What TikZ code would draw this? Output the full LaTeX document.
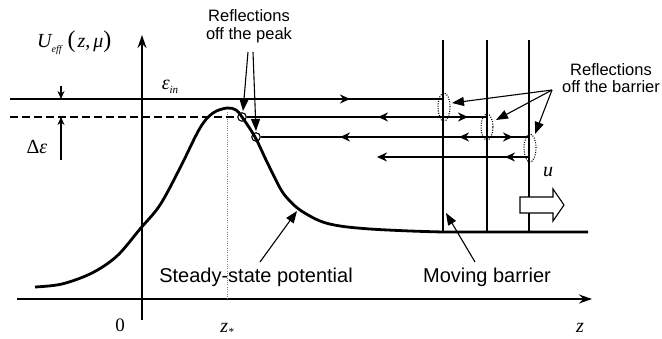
\documentclass[tikz,border=0pt]{standalone}
\usepackage{fontspec}
\setmainfont{Liberation Sans}
\newfontfamily\tms{Liberation Serif}
\usetikzlibrary{arrows.meta}
\begin{document}
\begin{tikzpicture}[x=1pt,y=-1pt,
  axis/.style={line width=1.3pt,-{Stealth[length=13pt,width=9pt]}},
  traj/.style={line width=2pt},
  bar/.style={line width=2.6pt},
  pot/.style={line width=2.8pt},
  midtip/.style={line width=2pt,-{Stealth[length=10pt,width=9pt]}},
  ptr/.style={line width=1.1pt,-{Triangle[length=12pt,width=9pt]}},
  lbl/.style={font=\fontsize{20}{22}\selectfont, inner sep=0pt},
  rlbl/.style={font=\fontsize{16.5}{17.5}\selectfont, align=center, inner sep=0pt},
  mth/.style={font=\tms\itshape\fontsize{20}{22}\selectfont, inner sep=0pt},
  ring/.style={draw, circle, line width=1.1pt, minimum size=8.5pt, inner sep=0pt},
  dotted ring/.style={line width=1.1pt, dash pattern=on 1pt off 1.4pt}
]
\useasboundingbox (0,0) rectangle (662,339);

% axes
\coordinate (xs) at (17,299);
\coordinate (xe) at (592,299);
\coordinate (ys) at (142,320);
\coordinate (ye) at (142,35);
\draw[axis] (xs) -- (xe);
\draw[axis] (ys) -- (ye);

% barriers
\coordinate (b1t) at (443,40); \coordinate (b1b) at (443,232);
\coordinate (b2t) at (487,40); \coordinate (b2b) at (487,232);
\coordinate (b3t) at (529,40); \coordinate (b3b) at (529,232);
\draw[bar] (b1t) -- (b1b);
\draw[bar] (b2t) -- (b2b);
\draw[bar] (b3t) -- (b3b);

% potential curve
\coordinate (fl) at (588,232);
\draw[pot] plot[smooth, tension=0.55] coordinates {
 (35,287) (62,284) (92,273) (117,256) (140,229) (160,205) (180,168) (200,128)
 (213,113) (227,108) (236,110) (242,117) (255,137) (267,162) (280,188) (288,199)
 (300,210) (320,221) (340,226) (370,229) (410,231) (443,232)} -- (fl);

% dotted z*
\coordinate (zt) at (227,112);
\coordinate (zb) at (227,299);
\draw[line width=0.9pt, gray, dash pattern=on 1pt off 1.3pt] (zt) -- (zb);

% reflection rings on the peak
\node[ring] (r1) at (242,117) {};
\node[ring] (r2) at (256,137) {};

% trajectories
\coordinate (l1s) at (10,99);
\coordinate (l1e) at (443,99);
\coordinate (d1s) at (10,117);
\coordinate (l2e) at (487,117);
\coordinate (l3e) at (529,137);
\coordinate (l4s) at (529,157);
\coordinate (l4e) at (377,157);
\draw[traj] (l1s) -- (l1e);
\draw[traj, dash pattern=on 8pt off 4pt] (d1s) -- (r1.west);
\draw[traj] (r1.east) -- (l2e);
\draw[traj] (r2.east) -- (l3e);
\draw[midtip] (l4s) -- (l4e);

% mid arrowheads
\draw[midtip] (343,99) -- (350,99);
\draw[midtip] (386,117) -- (378,117);
\draw[midtip] (461,117) -- (468,117);
\draw[midtip] (348,137) -- (340,137);
\draw[midtip] (467,137) -- (459,137);
\draw[midtip] (506,137) -- (513,137);
\draw[midtip] (513,157) -- (505,157);

% dotted ellipses at the barrier
\draw[dotted ring] (444,107) ellipse [x radius=6pt, y radius=14pt];
\draw[dotted ring] (487,127) ellipse [x radius=6pt, y radius=13pt];
\draw[dotted ring] (530,148) ellipse [x radius=6pt, y radius=14pt];

% delta epsilon marker
\coordinate (de1) at (61,86);
\coordinate (de2) at (61,99);
\coordinate (de3) at (61,160);
\coordinate (de4) at (61,117);
\draw[line width=1.1pt,-{Stealth[length=8pt,width=7pt]}] (de1) -- (de2);
\draw[line width=1.1pt,-{Stealth[length=8pt,width=7pt]}] (de3) -- (de4);

% labels
\node[rlbl] (rp) at (249,26) {Reflections\\off the peak};
\coordinate (rpo1) at (248,52);
\coordinate (rpo2) at (253,52);
\draw[ptr] (rpo1) -- (243,111);
\draw[ptr] (rpo2) -- (256,131);

\node[rlbl] (rb) at (611,78) {Reflections\\off the barrier};
\coordinate (rbo) at (552,90);
\draw[ptr] (rbo) -- (452,103);
\draw[ptr] (rbo) -- (496,120);
\draw[ptr] (rbo) -- (535,134);

\node[lbl] (ssp) at (256,277) {Steady-state potential};
\coordinate (sspt) at (297,211);
\draw[line width=1.1pt,-{Triangle[length=12pt,width=9pt]}] (260,262) -- (sspt);

\node[lbl] (mb) at (487,277) {Moving barrier};
\coordinate (mbt) at (446,213);
\draw[line width=1.1pt,-{Triangle[length=12pt,width=9pt]}] (475,262) -- (mbt);

% u block arrow
\draw[line width=1.1pt, fill=white] (520,197) -- (553,197) -- (553,189) -- (564,205)
  -- (553,221) -- (553,213) -- (520,213) -- cycle;
\node[mth] (u) at (548,172) {u};

% math labels
\node[mth, anchor=west] (U) at (37,43) {U\raisebox{-5pt}{\fontsize{10}{10}\selectfont eff}\hspace{6pt}\upshape\fontsize{24}{24}\selectfont(\hspace{2pt}\itshape\fontsize{20}{22}\selectfont z\upshape,\hspace{3pt}\itshape μ\upshape\fontsize{24}{24}\selectfont)};
\node[mth] (ein) at (170,87) {ε\raisebox{-4pt}{\fontsize{11}{11}\selectfont in}};
\node[mth] (de) at (37,147) {\upshape Δ\itshape ε};
\node[mth, font=\tms\fontsize{19}{20}\selectfont] (zero) at (120,325) {0};
\node[mth] (zs) at (227,329) {z\raisebox{-3pt}{\fontsize{11}{11}\selectfont *}};
\node[mth] (z) at (580,328) {z};
\end{tikzpicture}
\end{document}
